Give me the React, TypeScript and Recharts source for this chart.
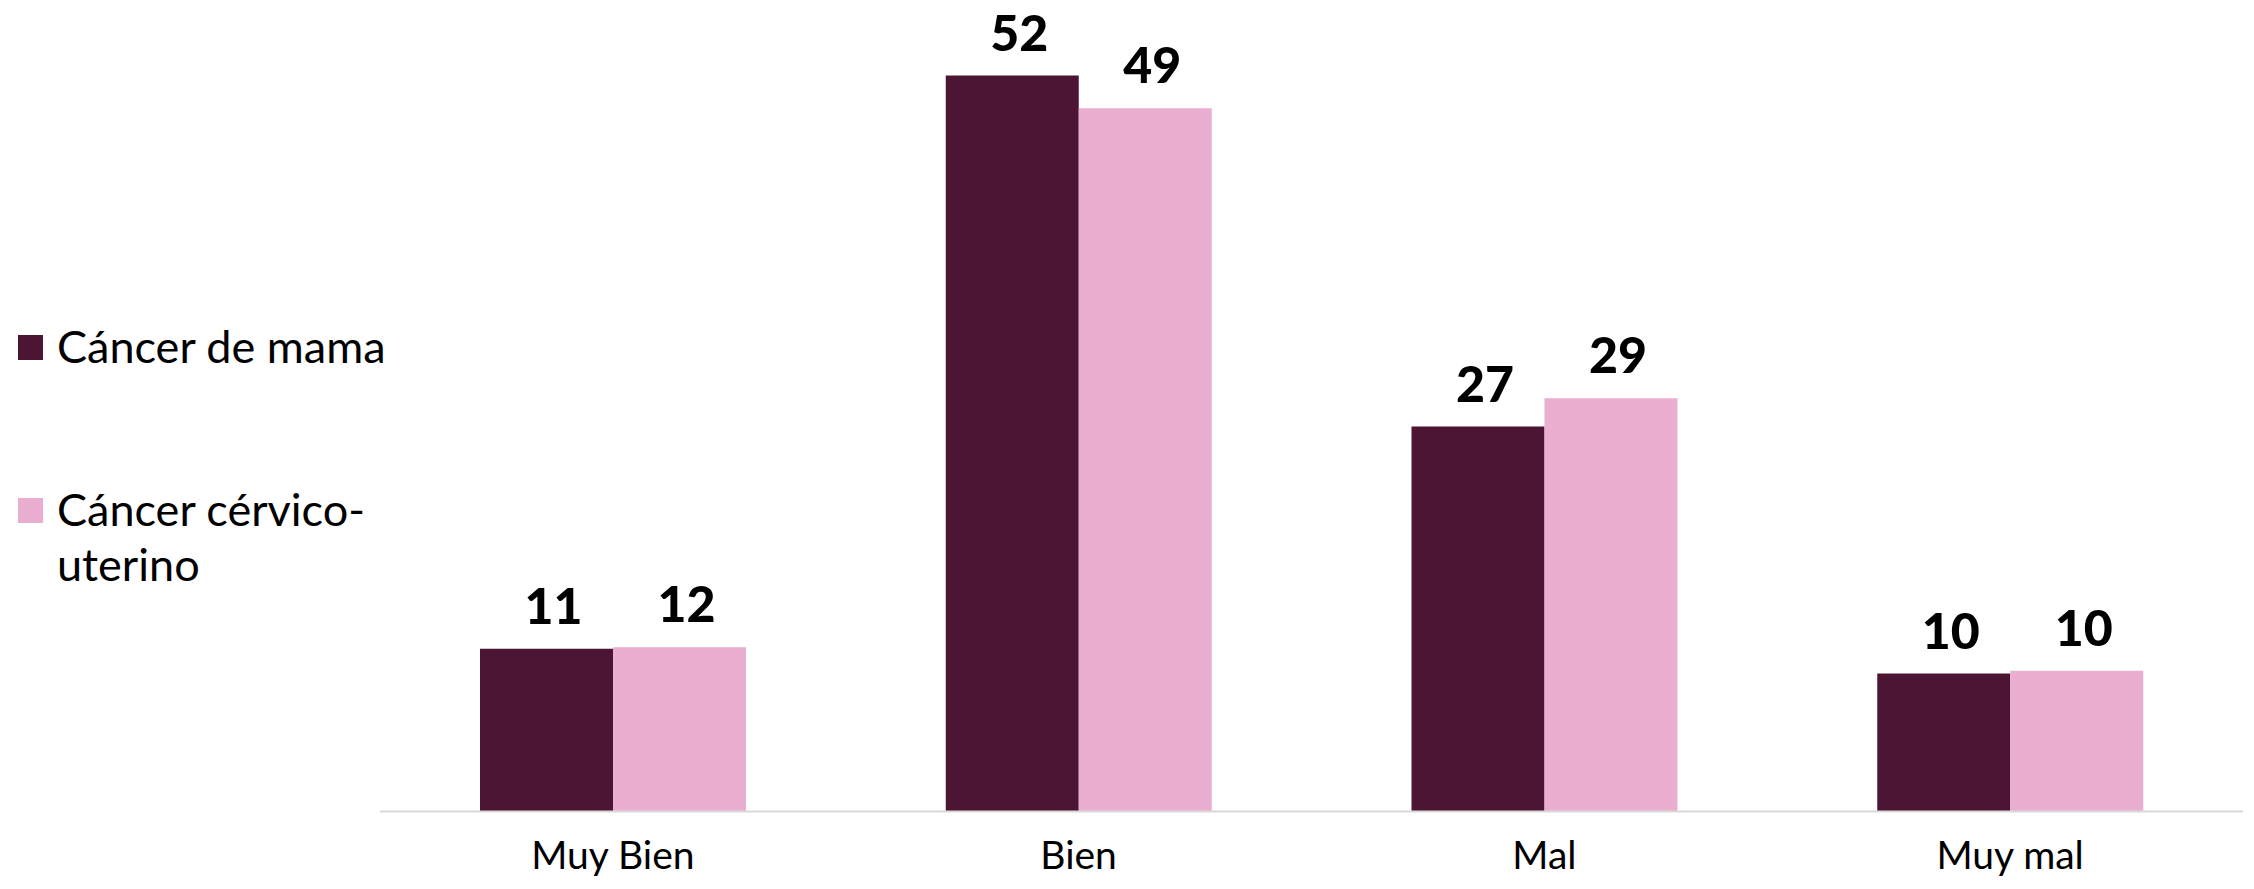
import React from 'react';
import { BarChart, Bar, XAxis, YAxis, LabelList } from 'recharts';

// ─── Data ────────────────────────────────────────────────────────────────────

const categories = ['Muy Bien', 'Bien', 'Mal', 'Muy mal'];

// bar heights (labels are the printed, rounded figures)
const mamaValues = [11.5, 52, 27.2, 9.75];
const cervicoValues = [11.6, 49.7, 29.2, 9.95];

const mamaLabels = ['11', '52', '27', '10'];
const cervicoLabels = ['12', '49', '29', '10'];

const seriesNames = ['Cáncer de mama', 'Cáncer cérvico-uterino'];
const legendLines = [['Cáncer de mama'], ['Cáncer cérvico-', 'uterino']];

// ─── Look ────────────────────────────────────────────────────────────────────

const COLORS = {
  mama: '#4C1533',
  cervico: '#EAAED0',
  axis: '#D9D9D9',
  text: '#000000',
};

const FONT = 'Lato, "Open Sans", sans-serif';

const chartData = categories.map((c, i) => ({
  category: c,
  mama: mamaValues[i],
  cervico: cervicoValues[i],
  mamaLabel: mamaLabels[i],
  cervicoLabel: cervicoLabels[i],
}));

function Legend() {
  const colors = [COLORS.mama, COLORS.cervico];
  const tops = [335, 498];
  return (
    <svg
      width={470}
      height={889}
      style={{ position: 'absolute', left: 0, top: 0, overflow: 'visible' }}
    >
      {seriesNames.map((name, i) => (
        <g key={name}>
          <rect x={18} y={tops[i]} width={25} height={25} fill={colors[i]} />
          <text
            x={57}
            y={tops[i] + 28}
            fontFamily={FONT}
            fontSize={45}
            fill={COLORS.text}
          >
            {legendLines[i].map((line, j) => (
              <tspan key={j} x={57} dy={j === 0 ? 0 : 55}>
                {line}
              </tspan>
            ))}
          </text>
        </g>
      ))}
    </svg>
  );
}

export default function App() {
  return (
    <div
      style={{
        position: 'absolute',
        left: 0,
        top: 0,
        width: 2254,
        height: 889,
        background: '#fff',
      }}
    >
      <BarChart
        width={2254}
        height={889}
        data={chartData}
        barCategoryGap={100}
        barGap={0}
        margin={{ top: 19, right: 11, bottom: 17.5, left: 380 }}
      >
        <XAxis
          dataKey="category"
          axisLine={{ stroke: COLORS.axis, strokeWidth: 2 }}
          tickLine={false}
          tickSize={0}
          tickMargin={30}
          height={60}
          tick={{ fill: COLORS.text, fontSize: 39, fontFamily: FONT }}
        />
        <YAxis hide domain={[0, 56]} />

        <Bar dataKey="mama" name={seriesNames[0]} fill={COLORS.mama} isAnimationActive={false}>
          <LabelList
            dataKey="mamaLabel"
            position="top"
            offset={25}
            dx={7}
            fill={COLORS.text}
            fontSize={50}
            fontWeight={900}
            fontFamily={FONT}
          />
        </Bar>
        <Bar dataKey="cervico" name={seriesNames[1]} fill={COLORS.cervico} isAnimationActive={false}>
          <LabelList
            dataKey="cervicoLabel"
            position="top"
            offset={25}
            dx={7}
            fill={COLORS.text}
            fontSize={50}
            fontWeight={900}
            fontFamily={FONT}
          />
        </Bar>
      </BarChart>
      <Legend />
    </div>
  );
}
